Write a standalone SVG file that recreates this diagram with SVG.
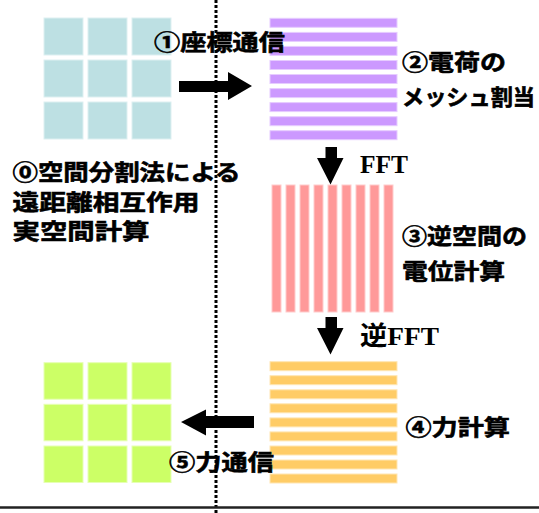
<svg xmlns="http://www.w3.org/2000/svg" width="539" height="513" viewBox="0 0 539 513">
<style>
.t{font-family:"Noto Sans CJK JP","Noto Sans",sans-serif;font-weight:bold;font-size:22px;fill:#000;stroke:#000;stroke-width:0.6}
.s{font-family:"Liberation Serif","Noto Sans CJK JP",serif;font-weight:bold;font-size:26px;fill:#000}
.teal{fill:#BDE0E3;stroke:#DDF0F1;stroke-width:1}
.green{fill:#CCFF66;stroke:#E6FFB3;stroke-width:1}
.purple{fill:#CC99FF;stroke:#E6CCFF;stroke-width:1}
.red{fill:#FF9999;stroke:#FFCCCC;stroke-width:1}
.orange{fill:#FFCC66;stroke:#FFE6B3;stroke-width:1}
.arrow{fill:#000}
</style>
<rect width="539" height="513" fill="#fff"/>

<g id="grid-coords">
<rect class="teal" x="44" y="18" width="39" height="37"/>
<rect class="teal" x="88" y="18" width="39" height="37"/>
<rect class="teal" x="132" y="18" width="39" height="37"/>
<rect class="teal" x="44" y="60" width="39" height="37"/>
<rect class="teal" x="88" y="60" width="39" height="37"/>
<rect class="teal" x="132" y="60" width="39" height="37"/>
<rect class="teal" x="44" y="102" width="39" height="37"/>
<rect class="teal" x="88" y="102" width="39" height="37"/>
<rect class="teal" x="132" y="102" width="39" height="37"/>
</g>

<g id="mesh-charge">
<rect class="purple" x="270" y="18.3" width="127" height="9"/>
<rect class="purple" x="270" y="32.4" width="127" height="9"/>
<rect class="purple" x="270" y="46.4" width="127" height="9"/>
<rect class="purple" x="270" y="60.5" width="127" height="9"/>
<rect class="purple" x="270" y="74.5" width="127" height="9"/>
<rect class="purple" x="270" y="88.6" width="127" height="9"/>
<rect class="purple" x="270" y="102.6" width="127" height="9"/>
<rect class="purple" x="270" y="116.7" width="127" height="9"/>
<rect class="purple" x="270" y="130.7" width="127" height="9"/>
</g>

<g id="mesh-reciprocal">
<rect class="red" x="272" y="185" width="9" height="127"/>
<rect class="red" x="286" y="185" width="9" height="127"/>
<rect class="red" x="300" y="185" width="9" height="127"/>
<rect class="red" x="314" y="185" width="9" height="127"/>
<rect class="red" x="328" y="185" width="9" height="127"/>
<rect class="red" x="342" y="185" width="9" height="127"/>
<rect class="red" x="356" y="185" width="9" height="127"/>
<rect class="red" x="370" y="185" width="9" height="127"/>
<rect class="red" x="384" y="185" width="9" height="127"/>
</g>

<g id="mesh-force">
<rect class="orange" x="270" y="361.7" width="127" height="9"/>
<rect class="orange" x="270" y="375.7" width="127" height="9"/>
<rect class="orange" x="270" y="389.8" width="127" height="9"/>
<rect class="orange" x="270" y="403.8" width="127" height="9"/>
<rect class="orange" x="270" y="417.9" width="127" height="9"/>
<rect class="orange" x="270" y="431.9" width="127" height="9"/>
<rect class="orange" x="270" y="446" width="127" height="9"/>
<rect class="orange" x="270" y="460" width="127" height="9"/>
<rect class="orange" x="270" y="474" width="127" height="9"/>
</g>

<g id="grid-force">
<rect class="green" x="44" y="362.7" width="39" height="36.5"/>
<rect class="green" x="88" y="362.7" width="39" height="36.5"/>
<rect class="green" x="132" y="362.7" width="39" height="36.5"/>
<rect class="green" x="44" y="404.3" width="39" height="36.5"/>
<rect class="green" x="88" y="404.3" width="39" height="36.5"/>
<rect class="green" x="132" y="404.3" width="39" height="36.5"/>
<rect class="green" x="44" y="446" width="39" height="36.5"/>
<rect class="green" x="88" y="446" width="39" height="36.5"/>
<rect class="green" x="132" y="446" width="39" height="36.5"/>
</g>

<g id="connectors">
<polygon class="arrow" points="179,81 228,81 228,72 252,86 228,100 228,92 179,92"/>
<polygon class="arrow" points="325.5,147 337,147 337,158 343.5,158 330.5,184.5 317,158 325.5,158"/>
<polygon class="arrow" points="325.5,317 337,317 337,328 343.5,328 330.5,354.5 317,328 325.5,328"/>
<polygon class="arrow" points="254,416 206,416 206,409.5 181,422 206,435.5 206,428 254,428"/>
</g>

<g id="divider">
<line x1="216" y1="0" x2="216" y2="513" stroke="#000" stroke-width="3" stroke-dasharray="3 2"/>
<line x1="0" y1="507.5" x2="539" y2="507.5" stroke="#222" stroke-width="2.5"/>
</g>

<g id="labels">
<text class="t" x="154" y="49.5" textLength="131" lengthAdjust="spacingAndGlyphs">①座標通信</text>
<text class="t" x="402" y="69.5" textLength="104" lengthAdjust="spacingAndGlyphs">②電荷の</text>
<text class="t" x="402" y="105" textLength="133" lengthAdjust="spacingAndGlyphs">メッシュ割当</text>
<text class="t" x="12.5" y="180" textLength="228" lengthAdjust="spacingAndGlyphs">⓪空間分割法による</text>
<text class="t" x="12.5" y="209.5" textLength="187" lengthAdjust="spacingAndGlyphs">遠距離相互作用</text>
<text class="t" x="12.5" y="239" textLength="137" lengthAdjust="spacingAndGlyphs">実空間計算</text>
<text class="t" x="402" y="244" textLength="125" lengthAdjust="spacingAndGlyphs">③逆空間の</text>
<text class="t" x="402" y="279" textLength="103" lengthAdjust="spacingAndGlyphs">電位計算</text>
<text class="t" x="405.5" y="434.5" textLength="104.5" lengthAdjust="spacingAndGlyphs">④力計算</text>
<text class="t" x="169" y="470" textLength="105" lengthAdjust="spacingAndGlyphs">⑤力通信</text>
<text class="s" x="360" y="173" textLength="48" lengthAdjust="spacingAndGlyphs">FFT</text>
<text class="s" x="360" y="345" textLength="79" lengthAdjust="spacingAndGlyphs">逆FFT</text>
</g>
</svg>
